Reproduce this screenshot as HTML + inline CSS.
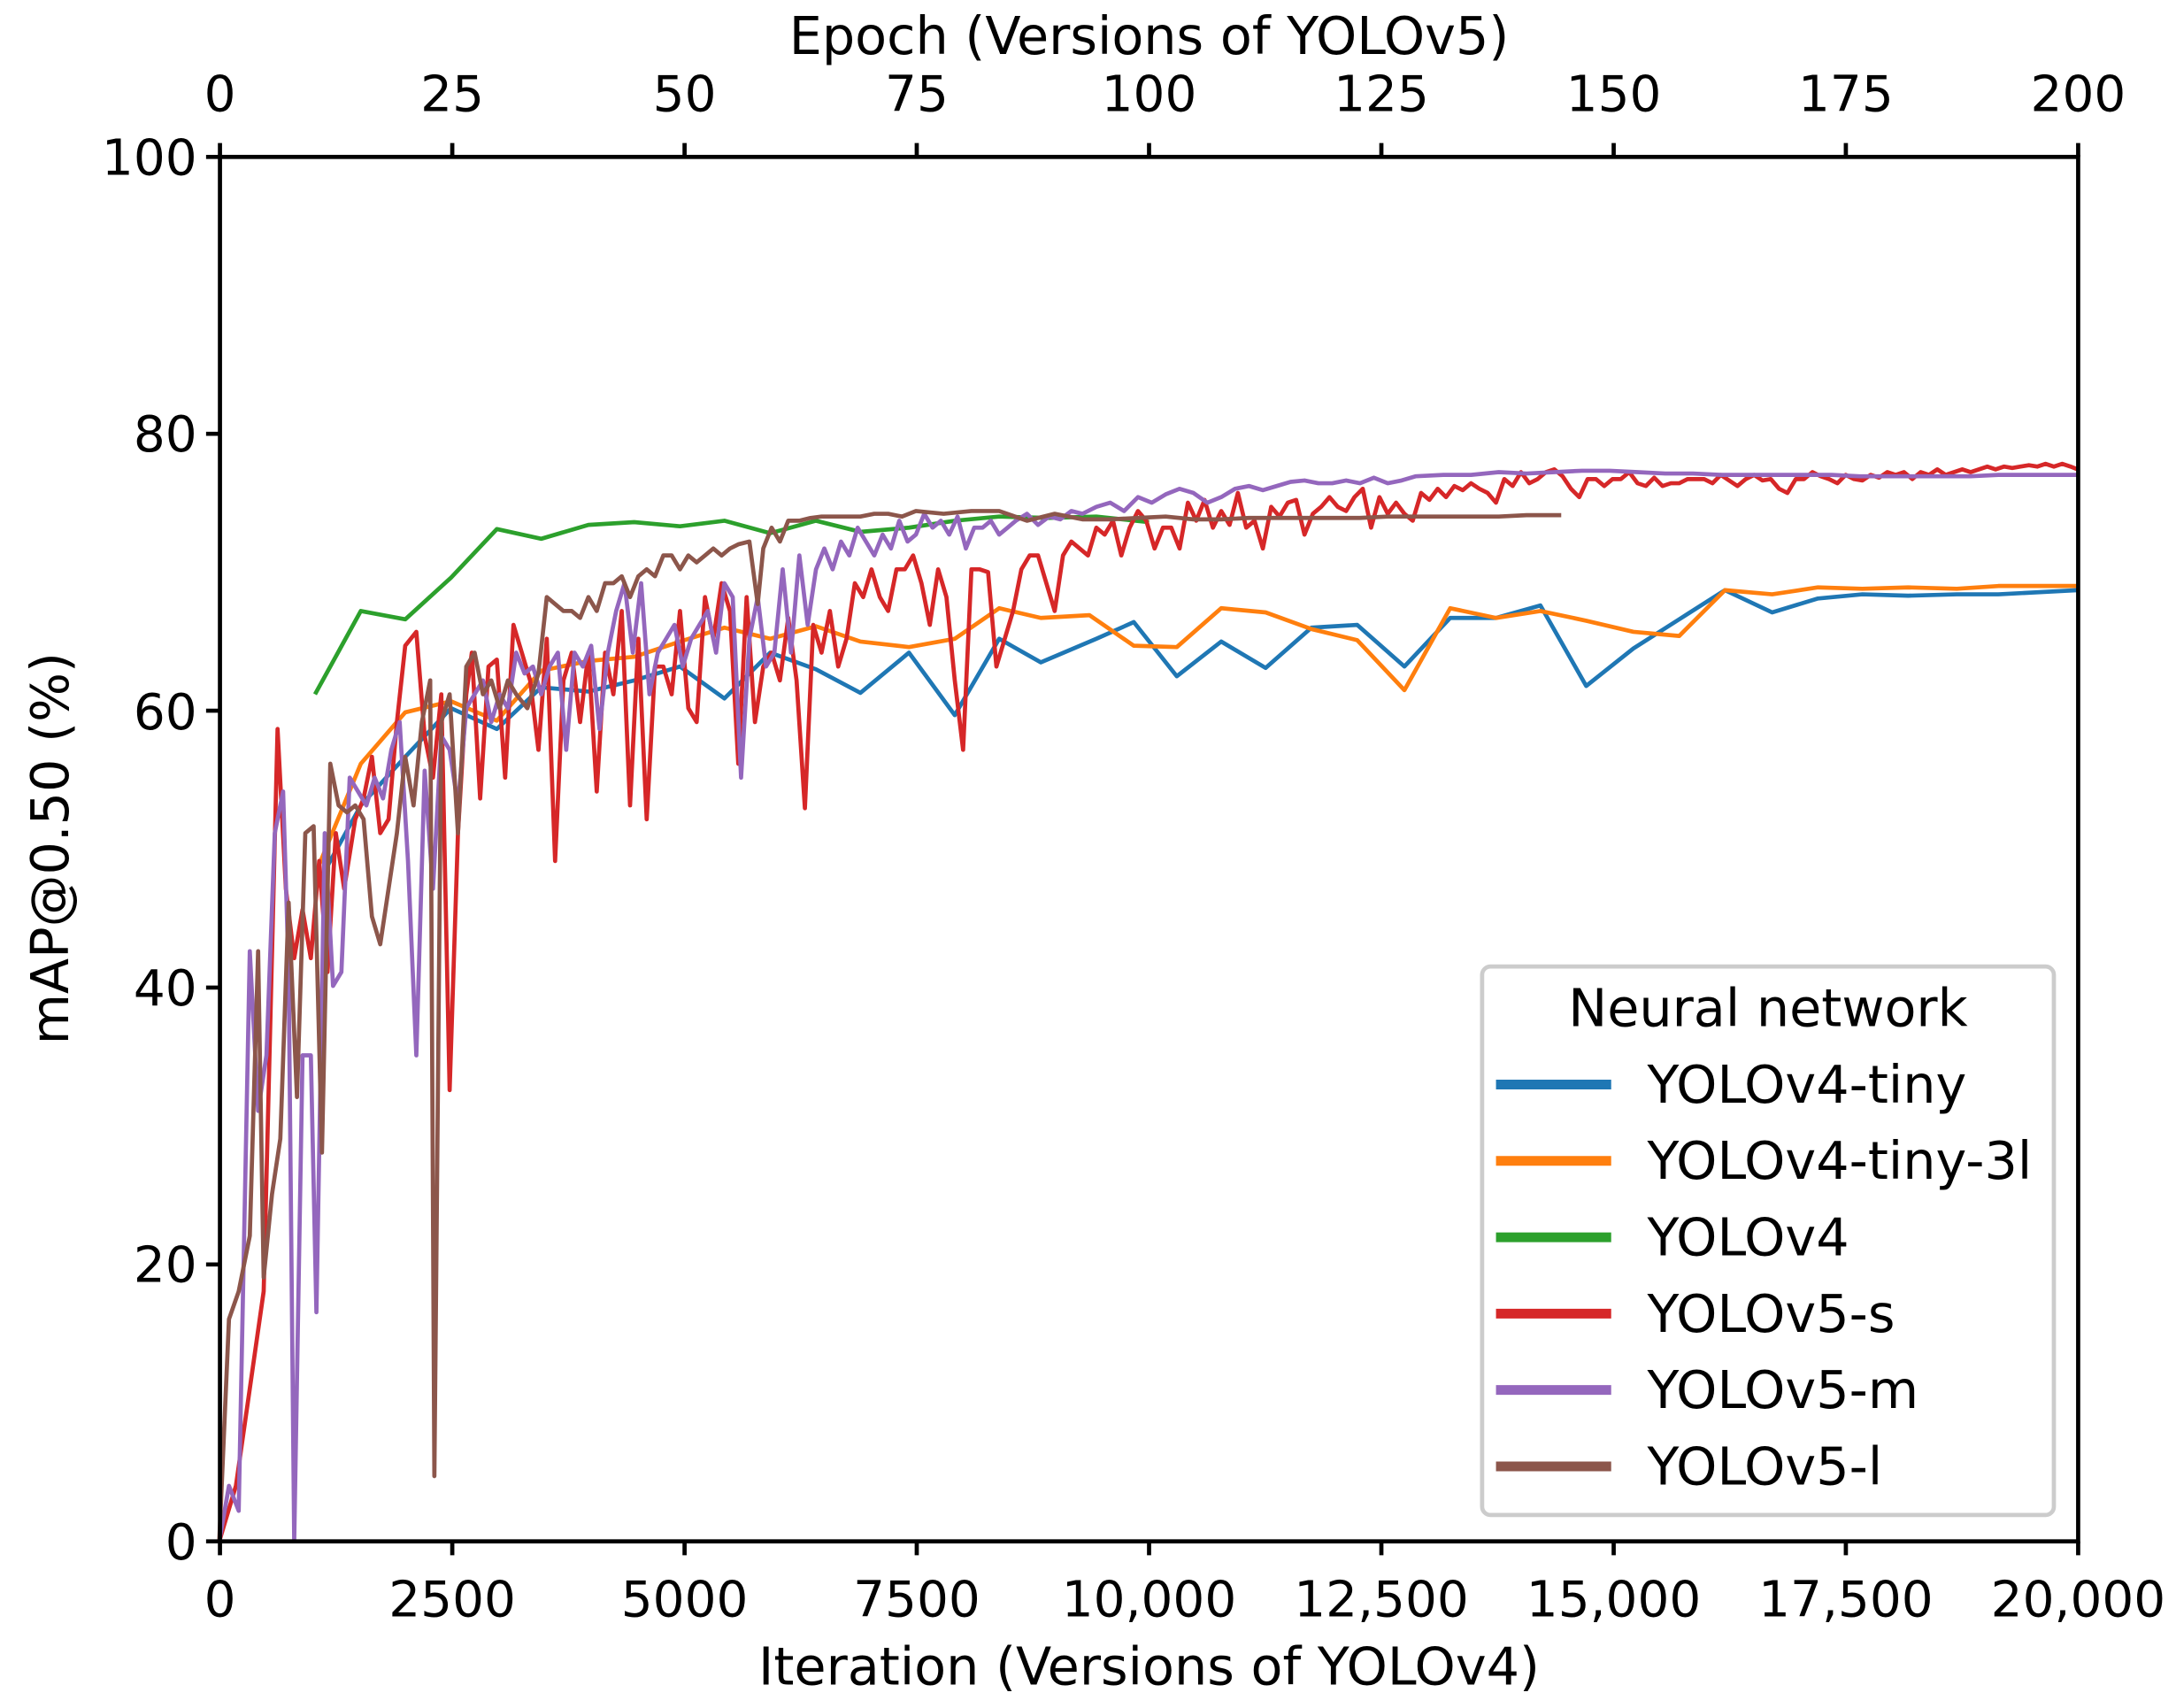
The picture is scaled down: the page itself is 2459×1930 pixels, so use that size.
<!DOCTYPE html>
<html><head><meta charset="utf-8"><style>html,body{margin:0;padding:0;background:#fff}svg{display:block}</style></head>
<body>
<svg width="2459" height="1930" viewBox="0 0 1568 1230" preserveAspectRatio="none" xmlns="http://www.w3.org/2000/svg" font-family="DejaVu Sans, Liberation Sans, sans-serif">
<rect width="1568" height="1230" fill="#fff"/>
<g fill="none" stroke-width="3" stroke-linejoin="round">
<polyline stroke="#2ca02c" points="227,500 260,440 292,446 325,416 358,381 390,388 424,378 457,376 490,379 522,375 555,384 588,375 620,383 655,380 688,375 720,372 755,373 790,372 828,376"/>
<polyline stroke="#1f77b4" points="227,640 260,580 292,545 325,510 358,525 390,495 424,498 457,490 490,480 522,503 555,470 588,482 620,499 655,470 688,515 720,460 750,477 790,460 817,448 848,487 880,462 912,481 945,452 978,450 1012,480 1045,445 1078,445 1110,436 1143,494 1177,467 1210,446 1243,425 1277,441 1310,431 1342,428 1375,429 1410,428 1440,428 1497,425"/>
<polyline stroke="#ff7f0e" points="227,630 260,550 292,513 325,505 358,519 390,483 424,476 457,473 490,462 522,452 555,460 588,451 620,462 655,466 688,460 720,438 750,445 785,443 817,465 848,466 880,438 912,441 945,453 978,461 1012,497 1045,438 1078,445 1110,440 1143,447 1177,455 1210,458 1243,425 1277,428 1310,423 1342,424 1375,423 1410,424 1440,422 1497,422"/>
<polyline stroke="#d62728" points="158,1110 170,1070 180,1000 190,930 200,525 206,640 212,690 218,655 224,690 230,620 236,700 242,600 248,640 256,590 262,575 268,545 274,600 280,590 286,520 292,465 300,455 306,530 312,560 318,500 324,785 330,600 336,500 340,470 346,575 352,480 358,475 364,560 370,450 376,470 382,490 388,540 394,460 400,620 406,490 412,470 418,520 424,470 430,570 436,470 442,500 448,440 454,580 460,460 466,590 472,480 478,480 484,500 490,440 496,510 502,520 508,430 514,460 520,420 526,440 532,550 538,430 544,520 550,480 556,470 562,490 568,445 574,490 580,582 586,450 592,470 598,440 604,480 610,460 616,420 622,430 628,410 634,430 640,440 646,410 652,410 658,400 664,420 670,450 676,410 682,430 688,490 694,540 700,410 706,410 712,412 718,480 724,460 730,440 736,410 742,400 748,400 754,420 760,440 766,400 772,390 778,395 784,400 790,380 796,385 802,375 808,400 814,380 820,368 826,375 832,395 838,380 844,380 850,395 856,362 862,375 868,360 874,380 880,368 886,378 892,355 898,380 904,375 910,395 916,365 922,372 928,362 934,360 940,385 946,370 952,365 958,358 964,365 970,368 976,358 982,352 988,380 994,358 1000,370 1006,362 1012,370 1018,375 1024,355 1030,360 1036,352 1042,358 1048,350 1054,353 1060,348 1066,352 1072,355 1078,362 1084,345 1090,350 1096,340 1102,348 1108,345 1114,340 1120,338 1126,343 1132,352 1138,358 1144,345 1150,345 1156,350 1162,345 1168,345 1174,340 1180,348 1186,350 1192,344 1198,350 1204,348 1210,348 1216,345 1222,345 1228,345 1234,348 1240,342 1246,346 1252,350 1258,345 1264,342 1270,346 1276,345 1282,352 1288,355 1294,345 1300,345 1306,340 1312,343 1318,345 1324,348 1330,342 1336,345 1342,346 1348,342 1354,344 1360,340 1366,342 1372,340 1378,345 1384,340 1390,342 1396,338 1402,342 1408,340 1414,338 1420,340 1426,338 1432,336 1438,338 1444,336 1450,337 1456,336 1462,335 1468,336 1474,334 1480,336 1486,334 1492,336 1497,338"/>
<polyline stroke="#9467bd" points="158,1110 165,1070 172,1088 180,685 186,800 192,760 198,600 204,570 208,700 212,1110 218,760 224,760 228,945 234,600 240,710 246,700 252,560 258,570 264,580 270,560 276,575 282,540 288,520 294,620 300,760 306,555 312,640 318,530 324,540 330,580 336,510 342,500 348,490 354,520 360,500 366,510 372,470 378,485 384,480 390,500 396,480 402,470 408,540 414,470 420,480 426,465 432,525 438,470 444,440 450,420 456,470 462,420 468,500 474,470 480,460 486,450 492,480 498,460 504,450 510,440 516,470 522,420 528,430 534,560 540,460 546,430 552,480 558,470 564,410 570,470 576,400 582,450 588,410 594,395 600,410 606,390 612,400 618,380 624,390 630,400 636,385 642,395 648,375 654,390 660,385 666,370 672,380 678,375 684,385 690,372 696,395 702,380 708,380 714,375 720,385 726,380 732,375 740,370 748,378 756,372 764,374 772,368 780,370 790,365 800,362 810,368 820,358 830,362 840,356 850,352 860,355 870,362 880,358 890,352 900,350 910,353 920,350 930,347 940,346 950,348 960,348 970,346 980,348 990,344 1000,348 1010,346 1020,343 1040,342 1060,342 1080,340 1100,341 1120,340 1140,339 1160,339 1180,340 1200,341 1220,341 1240,342 1260,342 1280,342 1300,342 1320,342 1340,343 1360,343 1380,343 1400,343 1420,343 1440,342 1460,342 1497,342"/>
<polyline stroke="#8c564b" points="158,1110 165,950 172,930 180,890 186,685 190,920 196,860 202,820 208,650 214,790 220,600 226,595 232,830 238,550 244,580 250,585 256,580 262,590 268,660 274,680 280,640 286,600 292,545 298,580 304,520 310,490 313,1063 318,520 324,500 330,600 336,480 342,470 348,500 354,490 360,510 366,490 372,500 380,510 388,485 394,430 400,435 406,440 412,440 418,445 424,430 430,440 436,420 442,420 448,415 454,430 460,415 466,410 472,415 478,400 484,400 490,410 496,400 502,405 508,400 514,395 520,400 526,395 532,392 540,390 546,435 550,395 556,380 562,390 568,375 576,375 584,373 592,372 600,372 610,372 620,372 630,370 640,370 650,372 660,368 680,370 700,368 720,368 740,375 760,370 780,374 800,374 820,373 840,372 860,374 880,374 900,373 920,373 940,373 960,373 980,373 1000,372 1020,372 1040,372 1060,372 1080,372 1100,371 1125,371"/>
</g>
<rect x="1068" y="696" width="412" height="395" rx="6" fill="#fff" fill-opacity="0.8" stroke="#cccccc" stroke-width="3"/>
<g stroke="#000" stroke-width="3" fill="none">
<rect x="158.5" y="113" width="1339" height="997"/>
<path d="M158.5,1110v10M325.9,1110v10M493.3,1110v10M660.6,1110v10M828,1110v10M995.4,1110v10M1162.8,1110v10M1330.1,1110v10M1497.5,1110v10"/>
<path d="M158.5,113v-10M325.9,113v-10M493.3,113v-10M660.6,113v-10M828,113v-10M995.4,113v-10M1162.8,113v-10M1330.1,113v-10M1497.5,113v-10"/>
<path d="M158.5,113h-10M158.5,312.4h-10M158.5,511.8h-10M158.5,711.2h-10M158.5,910.6h-10M158.5,1110h-10"/>
</g>
<g font-size="36" fill="#000">
<g text-anchor="end">
<text x="142" y="126">100</text><text x="142" y="325">80</text><text x="142" y="525">60</text><text x="142" y="724">40</text><text x="142" y="923">20</text><text x="142" y="1123">0</text>
</g>
<g text-anchor="middle">
<text x="158.5" y="1164">0</text><text x="325.9" y="1164">2500</text><text x="493.3" y="1164">5000</text><text x="660.6" y="1164">7500</text><text x="828" y="1164">10,000</text><text x="995.4" y="1164">12,500</text><text x="1162.8" y="1164">15,000</text><text x="1330.1" y="1164">17,500</text><text x="1497.5" y="1164">20,000</text>
<text x="158.5" y="80">0</text><text x="325.9" y="80">25</text><text x="493.3" y="80">50</text><text x="660.6" y="80">75</text><text x="828" y="80">100</text><text x="995.4" y="80">125</text><text x="1162.8" y="80">150</text><text x="1330.1" y="80">175</text><text x="1497.5" y="80">200</text>
<text x="828" y="1213" font-size="37.5">Iteration (Versions of YOLOv4)</text>
<text x="828" y="39" font-size="37.5">Epoch (Versions of YOLOv5)</text>
<text transform="translate(49,611) rotate(-90)" font-size="37.5">mAP@0.50 (%)</text>
<text x="1274" y="739" font-size="37.5">Neural network</text>
</g>
<g font-size="37.5">
<text x="1187" y="794">YOLOv4-tiny</text>
<text x="1187" y="849">YOLOv4-tiny-3l</text>
<text x="1187" y="904">YOLOv4</text>
<text x="1187" y="959">YOLOv5-s</text>
<text x="1187" y="1014">YOLOv5-m</text>
<text x="1187" y="1069">YOLOv5-l</text>
</g>
</g>
<g stroke-width="7">
<path stroke="#1f77b4" d="M1078,781h83"/>
<path stroke="#ff7f0e" d="M1078,836h83"/>
<path stroke="#2ca02c" d="M1078,891h83"/>
<path stroke="#d62728" d="M1078,946h83"/>
<path stroke="#9467bd" d="M1078,1001h83"/>
<path stroke="#8c564b" d="M1078,1056h83"/>
</g>
</svg>
</body></html>
